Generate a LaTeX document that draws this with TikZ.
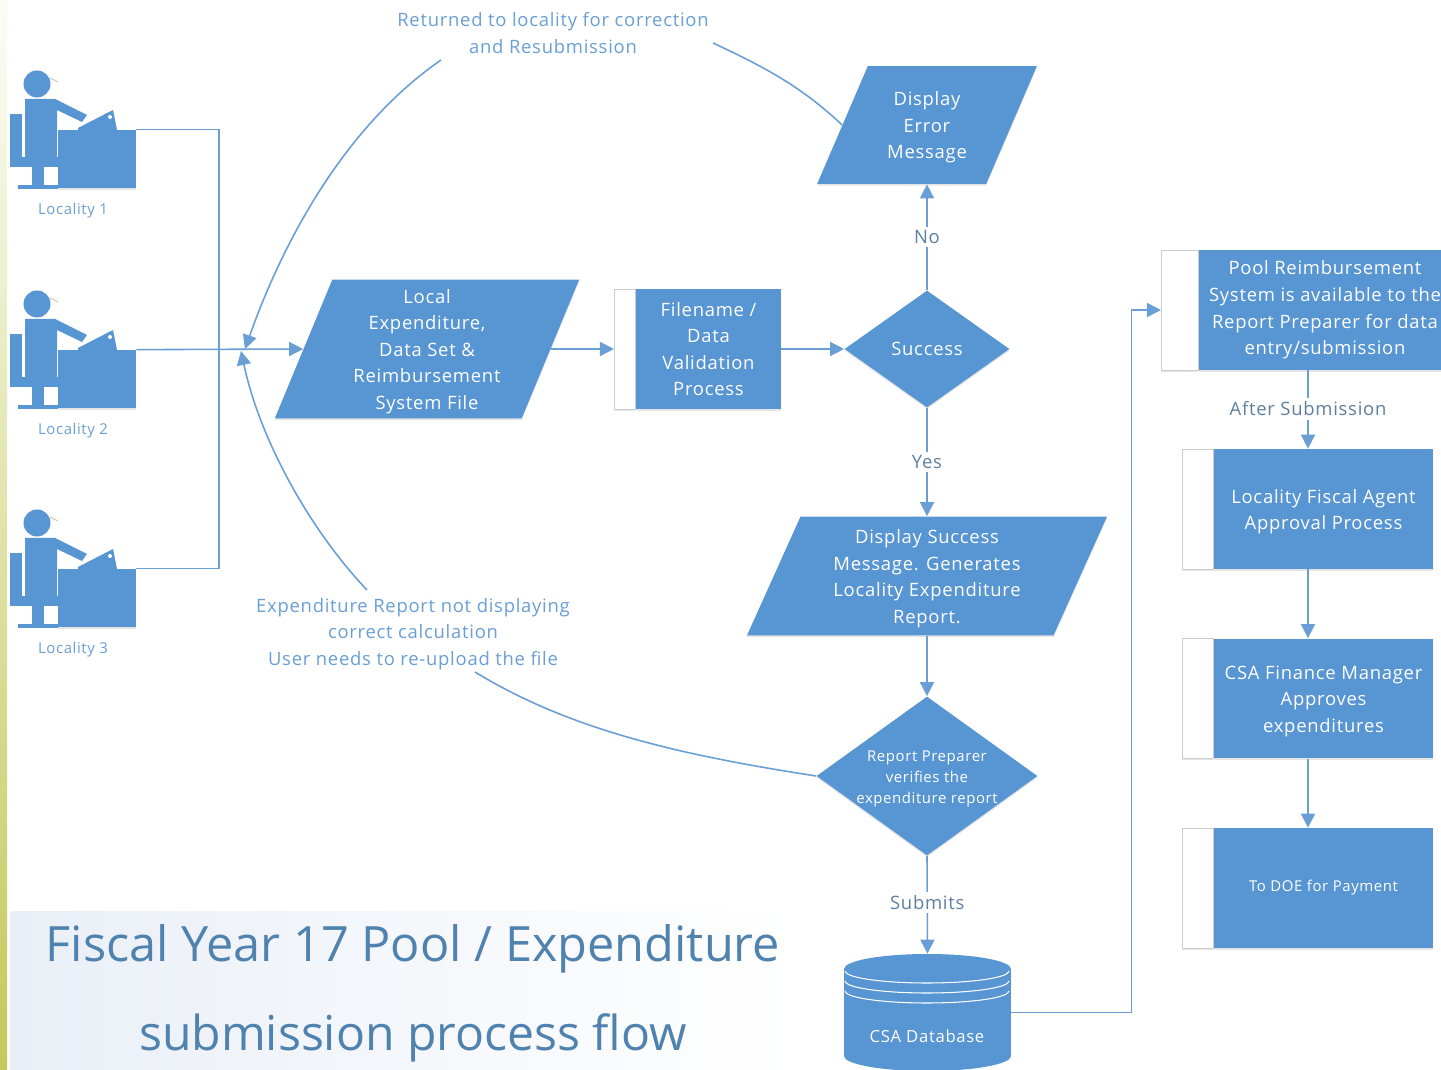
\documentclass[tikz,border=0pt]{standalone}
\usepackage{fontspec}
\setmainfont{Open Sans}[LetterSpace=4]
\newfontfamily\titlefont{Open Sans}
\usepackage{tikz}
\usetikzlibrary{positioning,shapes.geometric,arrows.meta,shadows}
\definecolor{flowblue}{HTML}{5795D3}
\definecolor{linkblue}{HTML}{6A9FD6}
\definecolor{notegray}{HTML}{5F7F9F}
\definecolor{titleblue}{HTML}{4F82AE}
\definecolor{bandgreen}{HTML}{C3C95A}
\definecolor{panelblue}{HTML}{EAEFF7}
\newcommand{\toproom}{\rule{0pt}{11pt}}
\tikzset{
    softshadow/.style={drop shadow={shadow xshift=0pt, shadow yshift=-1pt, opacity=0.2}},
    boxtext/.style={text=white, align=center, font=\fontsize{10.5}{15.1}\selectfont, inner sep=0pt},
    parallel/.style={boxtext, trapezium, fill=flowblue, softshadow, trapezium stretches=true, trapezium left angle=#1, trapezium right angle=180-#1},
    process/.style={boxtext, rectangle, fill=flowblue, minimum height=2.4cm},
    stripe/.style={rectangle, fill=white, draw=black!20, minimum height=2.4cm, inner sep=0pt},
    decision/.style={diamond, fill=flowblue, softshadow, inner sep=0pt},
    drumcap/.style={ellipse, fill=flowblue, minimum width=3.34cm, minimum height=0.6cm, inner sep=0pt},
    flow/.style={draw=linkblue, line width=0.9pt, -{Triangle[length=8pt,width=8pt]}},
    plain/.style={draw=linkblue, line width=0.9pt},
    note/.style={text=linkblue, align=center, font=\fontsize{10.5}{15.1}\selectfont, inner sep=0pt},
    steplabel/.style={text=notegray, fill=white, font=\fontsize{10.5}{12}\selectfont, inner sep=2pt},
    person/.style={fill=flowblue, draw=none}
}
\begin{document}
\begin{tikzpicture}[x=0.02cm, y=-0.02cm]
\clip (0,0) rectangle (1441,1070);
\fill[white] (0,0) rectangle (1441,1070);

% title panel and the band on the left
\shade[left color=panelblue, right color=white] (10,912) rectangle (800,1070);
\shade[top color=bandgreen!5, bottom color=bandgreen] (0,0) rectangle (7,1070);
\node[text=titleblue, font=\titlefont\fontsize{27.7}{27.7}\selectfont] (titleone) at (413,949) {Fiscal Year 17 Pool / Expenditure};
\node[text=titleblue, font=\titlefont\fontsize{27.4}{27.4}\selectfont] (titletwo) at (413,1038) {submission process flow};

% the three localities
\foreach \n/\dy in {1/0,2/220,3/439} {
    \begin{scope}[shift={(0,\dy)}]
        \fill[person] (10,114) rectangle (22,167);
        \fill[person] (10,157) rectangle (58,167);
        \fill[person] (32,167) rectangle (44,185);
        \fill[person] (18,185) rectangle (58,189);
        \fill[person] (25,99) -- (55,99) -- (87,115) -- (82,122) -- (57,110) -- (57,157) -- (25,157) -- cycle;
        \fill[person] (37,84) circle (0.27cm);
        \draw[draw=orange!50!black!30, line width=0.6pt] (50,78) -- (58,82);
        \fill[person] (78,128) -- (113,110) -- (117,130) -- (78,130) -- cycle;
        \fill[white] (110,117) circle (0.04cm);
        \node[fill=flowblue, softshadow, minimum width=1.56cm, minimum height=1.16cm, inner sep=0pt] (desk\n) at (97,159) {};
        \node[text=linkblue, font=\fontsize{8.5}{10}\selectfont] (locality\n) at (73,211) {Locality \n};
    \end{scope}
}

% left hand flow
\node[parallel=71, minimum width=6.1cm, minimum height=2.78cm] (local) at (427,349)
    {\toproom Local\\Expenditure,\\Data Set \&\\Reimbursement\\System File};
\node[process, softshadow, minimum width=2.9cm] (filename) at (708.5,349)
    {Filename /\\Data\\Validation\\Process};
\node[stripe, softshadow, minimum width=0.42cm, left=0pt of filename] (filenamestripe) {};
\node[decision, minimum width=3.3cm, minimum height=2.34cm,
    label={[boxtext]center:Success}] (success) at (927,349) {};
\node[parallel=66, minimum width=4.42cm, minimum height=2.36cm] (error) at (927,125)
    {\toproom Display\\Error\\Message};
\node[parallel=69, minimum width=7.22cm, minimum height=2.38cm] (display) at (927,576)
    {\toproom Display Success\\Message. Generates\\Locality Expenditure\\Report.};
\node[decision, minimum width=4.42cm, minimum height=3.18cm,
    label={[text=white, align=center, inner sep=0pt, yshift=-3*0.02cm, font=\fontsize{8.5}{11.8}\selectfont]center:Report Preparer\\verifies the\\expenditure report}] (verify) at (927,776) {};

% database drum
\node[drumcap] (databasebottom) at (927.5,1056) {};
\node[fill=flowblue, minimum width=3.34cm, minimum height=1.74cm, inner sep=0pt] (database) at (927.5,1012.5) {};
\node[drumcap] (databasetop) at (927.5,969) {};
\foreach \y in {971,981,991} {
    \draw[white, line width=0.6pt] (845,\y) arc[start angle=180, end angle=360, x radius=1.64cm, y radius=0.24cm];
}
\node[boxtext, font=\fontsize{9.5}{12}\selectfont] (databasetext) at (927,1036) {CSA Database};

% right hand column
\node[process, softshadow, minimum width=5.04cm] (pool) at (1325,310)
    {Pool Reimbursement\\System is available to the\\Report Preparer for data\\entry/submission};
\node[stripe, softshadow, minimum width=0.74cm, left=0pt of pool] (poolstripe) {};
\node[process, softshadow, minimum width=4.38cm] (agent) at (1323.5,509)
    {\toproom Locality Fiscal Agent\\Approval Process};
\node[stripe, softshadow, minimum width=0.62cm, left=0pt of agent] (agentstripe) {};
\node[process, softshadow, minimum width=4.38cm] (manager) at (1323.5,698.5)
    {\toproom CSA Finance Manager\\Approves\\expenditures};
\node[stripe, softshadow, minimum width=0.62cm, left=0pt of manager] (managerstripe) {};
\node[process, softshadow, minimum width=4.38cm, font=\fontsize{8.5}{12}\selectfont] (doe) at (1323.5,888)
    {To DOE for Payment};
\node[stripe, softshadow, minimum width=0.62cm, left=0pt of doe] (doestripe) {};

% notes on the return paths
\node[note] (returned) at (553,33) {Returned to locality for correction\\and Resubmission};
\node[note] (expreport) at (413,634) {Expenditure Report not displaying\\correct calculation\\User needs to re-upload the file};
\coordinate (bus) at (219,349);
\coordinate (retleft) at (441,60);
\coordinate (retright) at (713,43);
\coordinate (expup) at (367,590);
\coordinate (explow) at (475,672);
\coordinate (mergeone) at (245,349);
\coordinate (mergetwo) at (241,351);

% connectors
\draw[plain] (desk1.north east) -| (bus);
\draw[plain] (desk3.north east) -| (bus);
\draw[flow] (desk2.north east) -- (local.west);
\draw[flow] (local.east) -- (filenamestripe.west);
\draw[flow] (filename.east) -- (success.west);
\draw[flow] (success.north) -- node[steplabel] (nolabel) {No} (error.south);
\draw[flow] (success.south) -- node[steplabel] (yeslabel) {Yes} (display.north);
\draw[flow] (display.south) -- (verify.north);
\draw[flow] (verify.south) -- node[steplabel, pos=0.48] (submitlabel) {Submits} (databasetop.north);
\draw[flow] (database.east) -- ++(120,0) |- (poolstripe.west);
\node[steplabel] (afterlabel) at (1308,409) {After Submission};
\draw[plain] (afterlabel |- pool.south) -- (afterlabel.north);
\draw[flow] (afterlabel.south) -- (afterlabel |- agent.north);
\draw[flow] (afterlabel |- agent.south) -- (afterlabel |- manager.north);
\draw[flow] (afterlabel |- manager.south) -- (afterlabel |- doe.north);
\draw[plain] (error.west) .. controls (800,85) and (760,65) .. (retright);
\draw[flow] (retleft) .. controls (340,130) and (280,250) .. (mergeone);
\draw[plain] (verify.west) .. controls (680,755) and (570,730) .. (explow);
\draw[flow] (expup) .. controls (310,530) and (260,440) .. (mergetwo);
\end{tikzpicture}
\end{document}
